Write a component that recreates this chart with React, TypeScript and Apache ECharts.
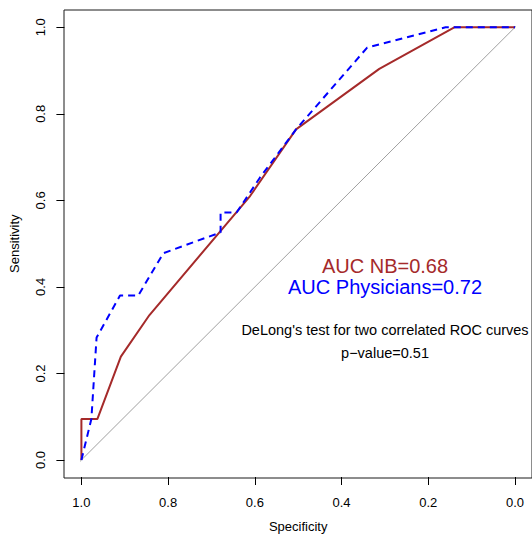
import React, { useEffect, useRef } from "react";
import * as echarts from "echarts";

const tickMin = 0;
const tickMax = 1;
const tickStep = 0.2;

const nbSpecificity = [1.0, 1.0, 0.963, 0.909, 0.843, 0.611, 0.505, 0.313, 0.14, 0.0];
const nbSensitivity = [0.0, 0.095, 0.095, 0.239, 0.335, 0.61, 0.764, 0.904, 1.0, 1.0];

const physSpecificity = [1.0, 0.977, 0.965, 0.911, 0.869, 0.811, 0.679, 0.679, 0.642, 0.588, 0.505, 0.341, 0.16, 0.0];
const physSensitivity = [0.0, 0.095, 0.283, 0.38, 0.38, 0.478, 0.526, 0.572, 0.572, 0.653, 0.764, 0.953, 1.0, 1.0];

const chanceSpecificity = [1.04, -0.04];
const chanceSensitivity = [-0.04, 1.04];

const FONT = "'Liberation Sans', Arial, Helvetica, sans-serif";

function pairs(xs: number[], ys: number[]) {
  return xs.map((x, i) => [x, ys[i]]);
}

export default function App() {
  const ref = useRef<HTMLDivElement>(null);
  useEffect(() => {
    document.body.style.margin = "0";
    const chart = echarts.init(ref.current!, null, { renderer: "svg" });
    const axisCommon = {
      type: "value" as const,
      gridIndex: 0,
      min: tickMin,
      max: tickMax,
      interval: tickStep,
      offset: 17,
      axisLine: { show: false, onZero: false },
      splitLine: { show: false },
      axisTick: {
        show: true,
        inside: false,
        length: 8,
        lineStyle: { color: "#000", width: 1 },
      },
      nameTextStyle: { fontFamily: FONT, fontSize: 13, color: "#000" },
    };
    chart.setOption({
      animation: false,
      backgroundColor: "#fff",
      grid: [
        { left: 81.4, top: 27.3, width: 433.6, height: 434, show: false },
        {
          left: 64,
          top: 10,
          width: 470,
          height: 468,
          show: true,
          borderColor: "#1a1a1a",
          borderWidth: 1,
          backgroundColor: "transparent",
        },
      ],
      xAxis: [
        {
          ...axisCommon,
          position: "bottom",
          inverse: true,
          name: "Specificity",
          nameLocation: "middle",
          nameGap: 43,
          axisLabel: {
            formatter: (v: number) => v.toFixed(1),
            fontFamily: FONT,
            fontSize: 13,
            color: "#000",
            margin: 19,
          },
        },
        { type: "value", gridIndex: 1, show: false, min: 0, max: 1 },
      ],
      yAxis: [
        {
          ...axisCommon,
          position: "left",
          name: "Sensitivity",
          nameLocation: "middle",
          nameGap: 43,
          axisLabel: {
            formatter: (v: number) => v.toFixed(1),
            fontFamily: FONT,
            fontSize: 13,
            color: "#000",
            rotate: 90,
            margin: 17,
          },
        },
        { type: "value", gridIndex: 1, show: false, min: 0, max: 1 },
      ],
      series: [
        {
          type: "line",
          data: pairs(chanceSpecificity, chanceSensitivity),
          symbol: "none",
          clip: false,
          lineStyle: { color: "#A0A0A0", width: 1 },
          z: 1,
          silent: true,
        },
        {
          name: "NB",
          type: "line",
          data: pairs(nbSpecificity, nbSensitivity),
          symbol: "none",
          clip: false,
          lineStyle: { color: "#A52A2A", width: 2 },
          z: 2,
        },
        {
          name: "Physicians",
          type: "line",
          data: pairs(physSpecificity, physSensitivity),
          symbol: "none",
          clip: false,
          lineStyle: { color: "#0000FF", width: 2, type: [7, 5] },
          z: 3,
        },
      ],
      graphic: [
        {
          type: "text",
          x: 385,
          y: 266,
          style: { text: "AUC NB=0.68", font: `20px ${FONT}`, fill: "#A52A2A", align: "center", verticalAlign: "middle" },
        },
        {
          type: "text",
          x: 385,
          y: 286.5,
          style: { text: "AUC Physicians=0.72", font: `20px ${FONT}`, fill: "#0000FF", align: "center", verticalAlign: "middle" },
        },
        {
          type: "text",
          x: 385,
          y: 330,
          style: { text: "DeLong's test for two correlated ROC curves", font: `14.5px ${FONT}`, fill: "#000", align: "center", verticalAlign: "middle" },
        },
        {
          type: "text",
          x: 385,
          y: 353,
          style: { text: "p\u2212value=0.51", font: `14.5px ${FONT}`, fill: "#000", align: "center", verticalAlign: "middle" },
        },
      ],
    });
    return () => chart.dispose();
  }, []);
  return <div ref={ref} style={{ width: 532, height: 538, position: "absolute", left: 0, top: 0 }} />;
}
